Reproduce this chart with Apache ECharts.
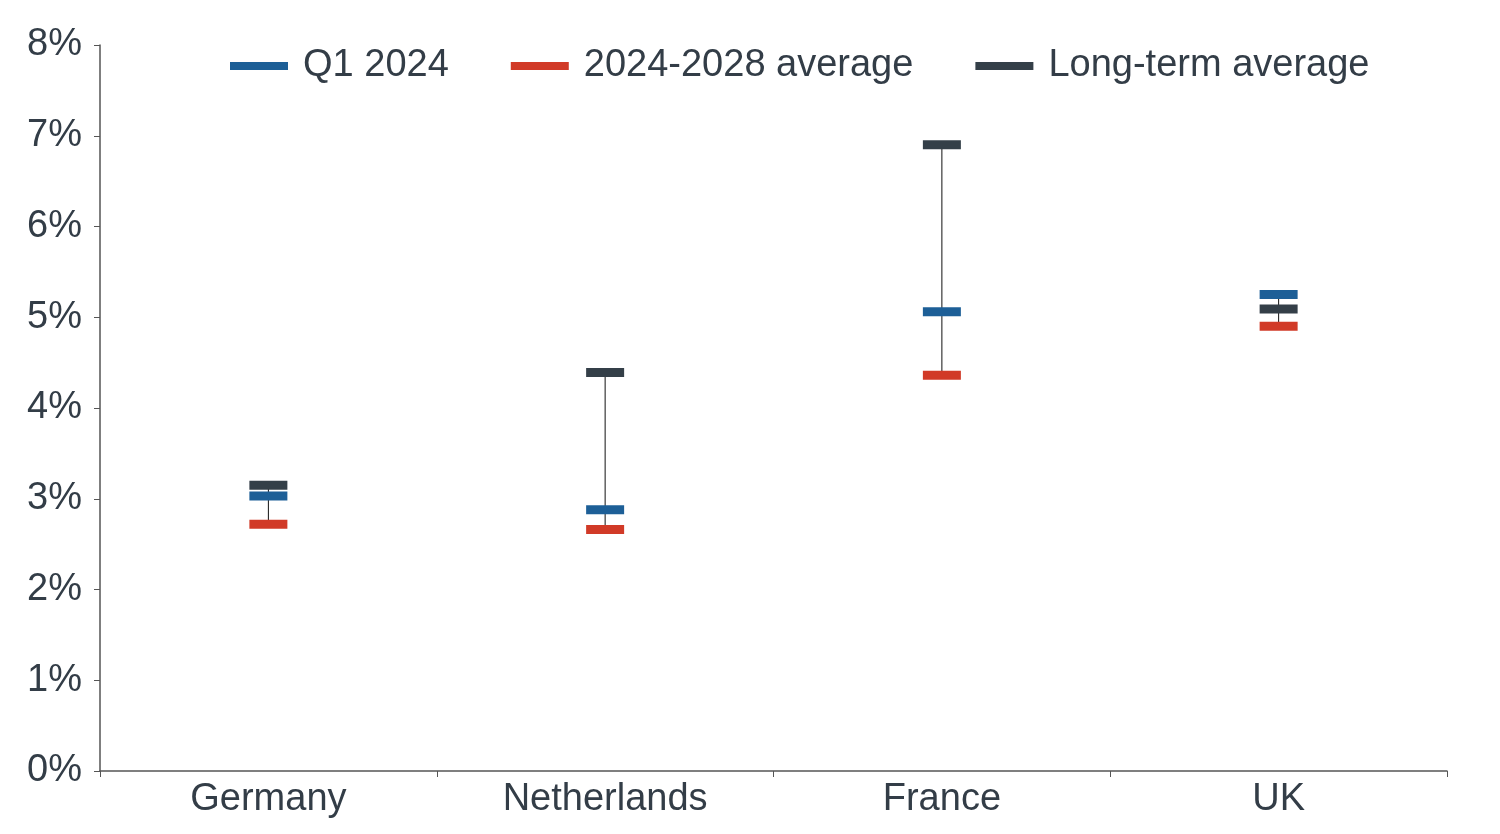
<!DOCTYPE html>
<html><head><meta charset="utf-8">
<script src="https://cdn.jsdelivr.net/npm/echarts@6/dist/echarts.min.js"></script>
<style>html,body{margin:0;padding:0;background:#fff}#c{width:1500px;height:834px}</style>
</head><body><div id="c"></div>
<script>
const categories = ['Germany','Netherlands','France','UK'];
const q1_2024 = [3.03, 2.88, 5.06, 5.25];
const avg2024_2028 = [2.72, 2.66, 4.36, 4.90];
const longTerm = [3.15, 4.39, 6.90, 5.09];
const yTicks = [0,1,2,3,4,5,6,7,8];

const txt = '#333d47';
const font = 'Arial, Liberation Sans, sans-serif';
const ranges = categories.map((c,i)=>{
  const v=[q1_2024[i],avg2024_2028[i],longTerm[i]];
  return [i, Math.min(...v), Math.max(...v)];
});
const chart = echarts.init(document.getElementById('c'));
const mk = (name, data, color, z) => ({
  name, type:'scatter', data: data.map((v,i)=>[i,v]), symbol:'rect', symbolSize:[38,9],
  itemStyle:{color, opacity:1}, z, emphasis:{disabled:true}
});
chart.setOption({
  animation:false,
  grid:{left:100, right:53, top:45, bottom:63},
  legend:{top:42, left:225, itemWidth:58, itemHeight:8, itemGap:62, icon:'rect',
    textStyle:{fontSize:38, color:txt, fontFamily:font, padding:[0,0,0,10]},
    data:['Q1 2024','2024-2028 average','Long-term average']},
  xAxis:{type:'category', data:categories, boundaryGap:true,
    axisLine:{lineStyle:{color:'#555', width:1.5}},
    axisTick:{show:true, length:6, lineStyle:{color:'#555'}},
    axisLabel:{fontSize:38, color:txt, fontFamily:font, margin:10}},
  yAxis:{type:'value', min:yTicks[0], max:yTicks[yTicks.length-1], interval:1,
    splitLine:{show:false},
    axisLine:{show:true, lineStyle:{color:'#555', width:1.5}},
    axisTick:{show:true, inside:false, length:6, lineStyle:{color:'#555'}},
    axisLabel:{fontSize:38, color:txt, fontFamily:font, formatter:v=>v+'%', margin:18}},
  series:[
    {type:'custom', data:ranges, z:1, silent:true,
      renderItem:(p,api)=>{
        const a=api.coord([api.value(0),api.value(1)]);
        const b=api.coord([api.value(0),api.value(2)]);
        return {type:'line', shape:{x1:a[0],y1:a[1],x2:b[0],y2:b[1]}, style:{stroke:'#111', lineWidth:1}};
      }},
    mk('Q1 2024', q1_2024, '#1d5f97', 3),
    mk('2024-2028 average', avg2024_2028, '#d13a27', 3),
    mk('Long-term average', longTerm, '#343f48', 3)
  ]
});
</script></body></html>
